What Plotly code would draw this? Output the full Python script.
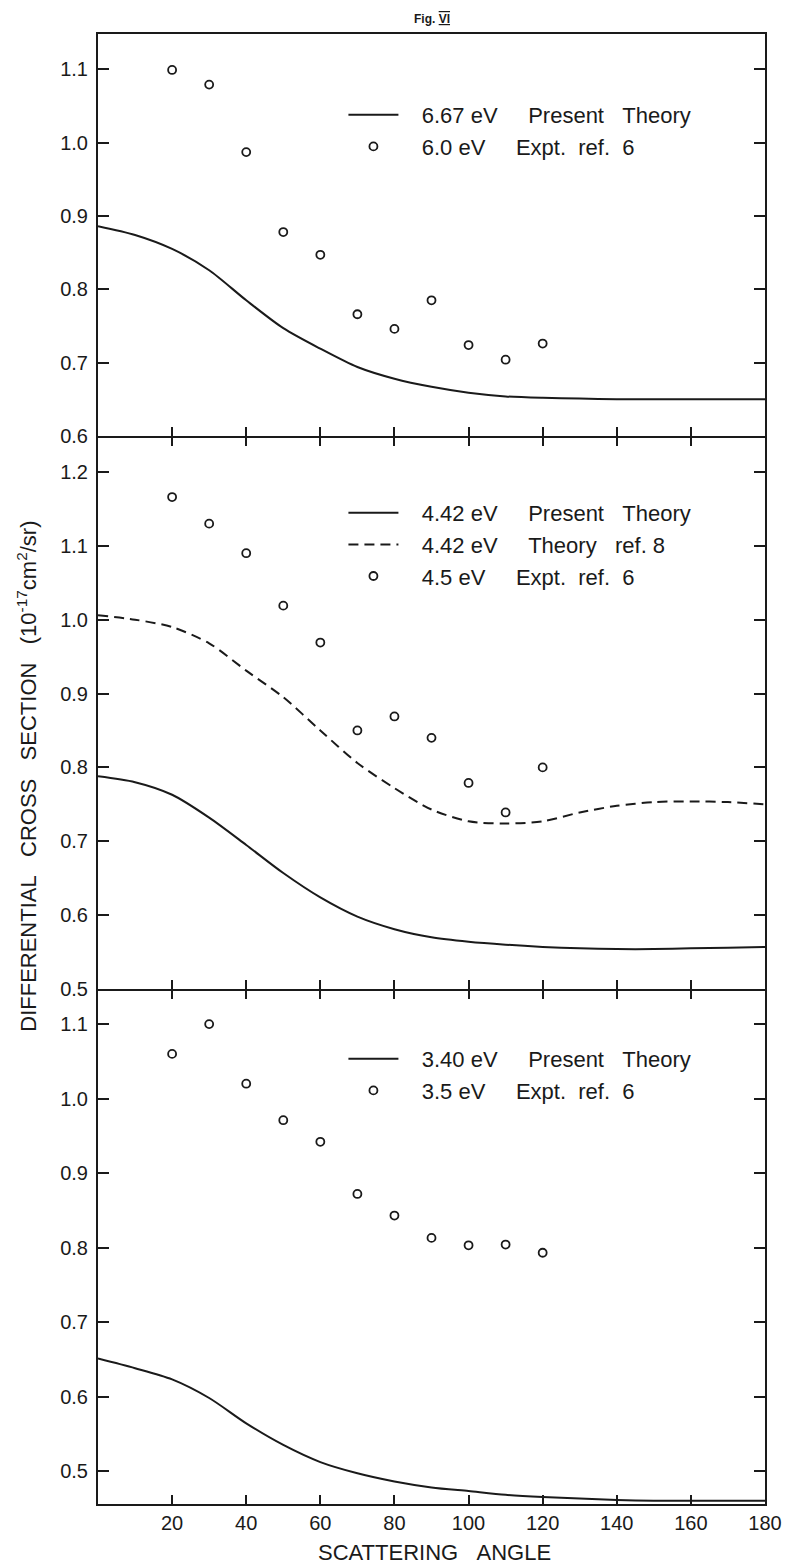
import plotly.graph_objects as go

# ---------------- data ----------------
pt_angles = [20, 30, 40, 50, 60, 70, 80, 90, 100, 110, 120]
curve_angles = [0, 10, 20, 30, 40, 50, 60, 70, 80, 90, 100, 110, 120, 130, 140, 150, 160, 170, 180]

top_expt = [1.099, 1.079, 0.987, 0.878, 0.847, 0.766, 0.746, 0.785, 0.724, 0.704, 0.726]
top_theory = [0.886, 0.874, 0.855, 0.826, 0.785, 0.747, 0.719, 0.694, 0.678, 0.667,
              0.659, 0.654, 0.652, 0.651, 0.650, 0.650, 0.650, 0.650, 0.650]

mid_expt = [1.166, 1.130, 1.090, 1.019, 0.969, 0.850, 0.869, 0.840, 0.779, 0.739, 0.800]
mid_theory = [0.788, 0.780, 0.763, 0.732, 0.695, 0.657, 0.624, 0.598, 0.581, 0.570,
              0.564, 0.560, 0.557, 0.555, 0.554, 0.554, 0.555, 0.556, 0.557]
mid_ref8 = [1.006, 1.000, 0.990, 0.968, 0.931, 0.895, 0.850, 0.806, 0.772, 0.743,
            0.727, 0.724, 0.727, 0.739, 0.748, 0.753, 0.754, 0.753, 0.750]

bot_expt = [1.060, 1.100, 1.020, 0.971, 0.942, 0.872, 0.843, 0.813, 0.803, 0.804, 0.793]
bot_theory = [0.651, 0.638, 0.623, 0.598, 0.564, 0.535, 0.512, 0.497, 0.486, 0.478,
              0.473, 0.468, 0.465, 0.463, 0.461, 0.460, 0.460, 0.460, 0.460]

top_yticks = [0.6, 0.7, 0.8, 0.9, 1.0, 1.1]
mid_yticks = [0.5, 0.6, 0.7, 0.8, 0.9, 1.0, 1.1, 1.2]
bot_yticks = [0.5, 0.6, 0.7, 0.8, 0.9, 1.0, 1.1]
x_ticks = [20, 40, 60, 80, 100, 120, 140, 160, 180]

NB = "\u00a0"
G1 = NB * 5   # gap after "eV"
G2 = NB * 3   # gap between other words
FONT = "Liberation Sans, Arial, sans-serif"
INK = "#1a1a1a"
LW = 1.6

fig = go.Figure()

line_style = dict(color=INK, width=2, shape="spline", smoothing=0.8)
marker_style = dict(symbol="circle-open", size=8, color=INK, line=dict(width=1.8, color=INK))

# top panel
fig.add_trace(go.Scatter(x=curve_angles, y=top_theory, mode="lines", line=line_style,
                         name=NB*3 + "6.67 eV" + G1 + "Present" + G2 + "Theory",
                         xaxis="x", yaxis="y", legend="legend"))
fig.add_trace(go.Scatter(x=pt_angles, y=top_expt, mode="markers", marker=marker_style,
                         name=NB*3 + "6.0 eV" + G1 + "Expt." + NB*2 + "ref." + NB*2 + "6",
                         xaxis="x", yaxis="y", legend="legend"))
# middle panel
fig.add_trace(go.Scatter(x=curve_angles, y=mid_theory, mode="lines", line=line_style,
                         name=NB*3 + "4.42 eV" + G1 + "Present" + G2 + "Theory",
                         xaxis="x2", yaxis="y2", legend="legend2"))
fig.add_trace(go.Scatter(x=curve_angles, y=mid_ref8, mode="lines",
                         line=dict(color=INK, width=2, dash="10px,6px", shape="spline", smoothing=0.8),
                         name=NB*3 + "4.42 eV" + G1 + "Theory" + G2 + "ref. 8",
                         xaxis="x2", yaxis="y2", legend="legend2"))
fig.add_trace(go.Scatter(x=pt_angles, y=mid_expt, mode="markers", marker=marker_style,
                         name=NB*3 + "4.5 eV" + G1 + "Expt." + NB*2 + "ref." + NB*2 + "6",
                         xaxis="x2", yaxis="y2", legend="legend2"))
# bottom panel
fig.add_trace(go.Scatter(x=curve_angles, y=bot_theory, mode="lines", line=line_style,
                         name=NB*3 + "3.40 eV" + G1 + "Present" + G2 + "Theory",
                         xaxis="x3", yaxis="y3", legend="legend3"))
fig.add_trace(go.Scatter(x=pt_angles, y=bot_expt, mode="markers", marker=marker_style,
                         name=NB*3 + "3.5 eV" + G1 + "Expt." + NB*2 + "ref." + NB*2 + "6",
                         xaxis="x3", yaxis="y3", legend="legend3"))

H_PLOT = 1470.0
def dom(top_px, bot_px):
    return [(1504 - bot_px) / H_PLOT, (1504 - top_px) / H_PLOT]

tickfont = dict(family=FONT, size=20, color=INK)

def xax(anchor, labels=False, mirror=True):
    return dict(range=[0, 180], anchor=anchor, showline=True, linewidth=LW, linecolor=INK,
                mirror=mirror, ticks="inside", ticklen=9, tickwidth=1.8, tickcolor=INK,
                tickvals=x_ticks, showticklabels=labels, tickfont=tickfont,
                showgrid=False, zeroline=False, fixedrange=True)

def yax(anchor, rng, ticks, domain):
    return dict(range=rng, domain=domain, anchor=anchor, showline=True, linewidth=2,
                linecolor=INK, mirror="ticks", ticks="inside", ticklen=11, tickwidth=1.8,
                tickcolor=INK, tickvals=ticks, tickformat=".1f", tickfont=tickfont,
                ticklabelstandoff=4, showgrid=False, zeroline=False, fixedrange=True)

legend_font = dict(family=FONT, size=22, color=INK)
def leg(ytop_px):
    return dict(x=(346 - 98) / 674.0, xref="paper", xanchor="left",
                y=(1504 - ytop_px) / H_PLOT, yref="paper", yanchor="top",
                font=legend_font, bgcolor="rgba(0,0,0,0)", borderwidth=0,
                itemwidth=50, tracegroupgap=0, traceorder="normal")

# panels overlap by one line width so the shared divider lines coincide
fig.update_layout(
    width=794, height=1566,
    margin=dict(l=98, r=22, t=34, b=62),
    paper_bgcolor="white", plot_bgcolor="rgba(0,0,0,0)",
    showlegend=True,
    xaxis=xax("y", mirror=True),
    xaxis2=xax("y2", mirror="ticks"),
    xaxis3=xax("y3", labels=True, mirror="ticks"),
    yaxis=yax("x", [0.6, 1.148], top_yticks, dom(34, 436)),
    yaxis2=yax("x2", [0.5, 1.2465], mid_yticks, dom(436 + LW, 989)),
    yaxis3=yax("x3", [0.4557, 1.145], bot_yticks, dom(989 + LW, 1504)),
    legend=leg(94),
    legend2=leg(492),
    legend3=leg(1038),
    annotations=[
        dict(text="DIFFERENTIAL" + NB*3 + "CROSS" + NB*3 + "SECTION" + NB*3 + "(10<sup>-17</sup>cm<sup>2</sup>/sr)",
             xref="paper", yref="paper", x=(26 - 98) / 674.0, y=(1504 - 776) / H_PLOT,
             xanchor="center", yanchor="middle", textangle=-90, showarrow=False,
             font=dict(family=FONT, size=22, color=INK)),
        dict(text="SCATTERING" + NB*3 + "ANGLE",
             xref="paper", yref="paper", x=(438 - 98) / 674.0, y=(1504 - 1552) / H_PLOT,
             xanchor="center", yanchor="middle", showarrow=False,
             font=dict(family=FONT, size=22, color=INK)),
        dict(text="<b>Fig.</b> <b><span style='text-decoration:underline overline'>VI</span></b>",
             xref="paper", yref="paper", x=(436 - 98) / 674.0, y=(1504 - 19) / H_PLOT,
             xanchor="center", yanchor="middle", showarrow=False,
             font=dict(family=FONT, size=12, color=INK)),
    ],
)

fig.write_html("out.html")
